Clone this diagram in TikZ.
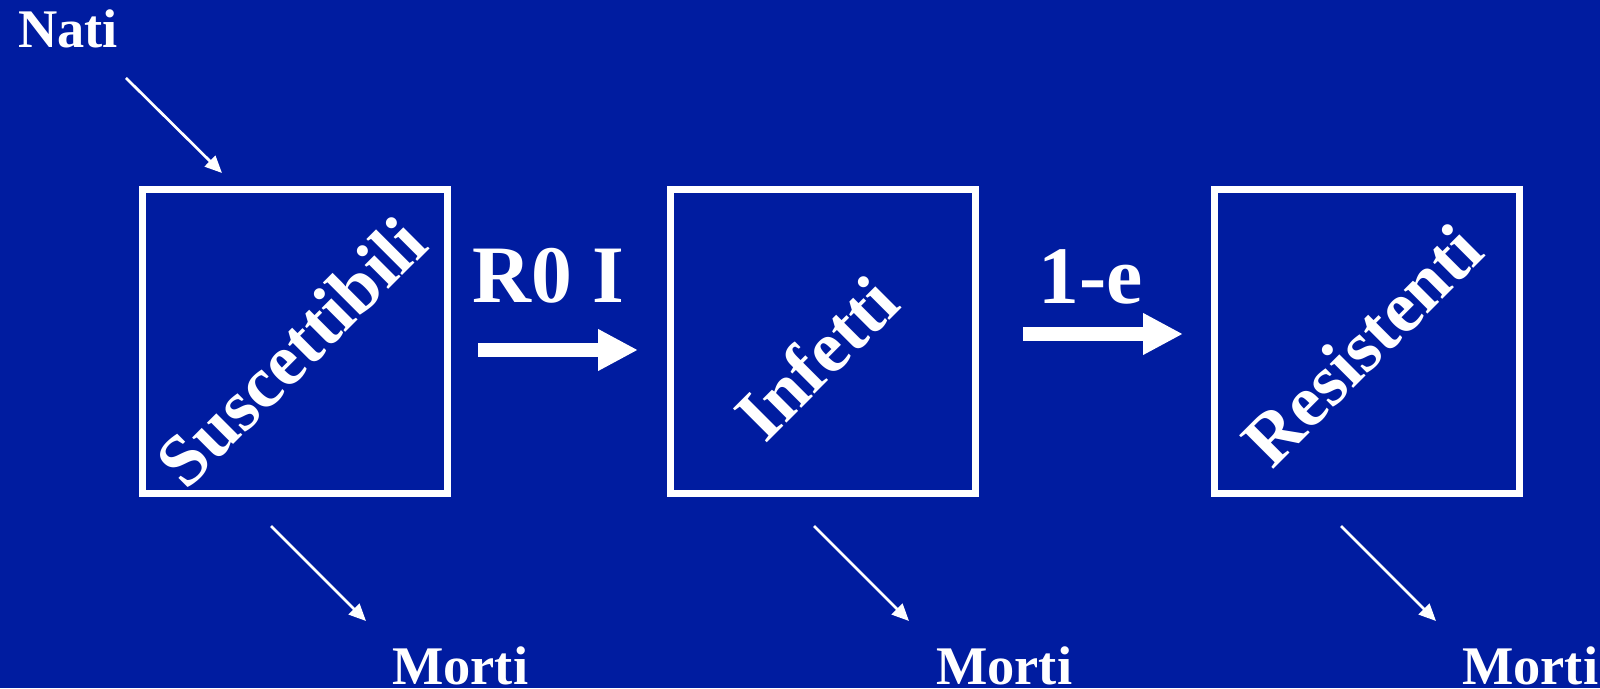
\documentclass[tikz,border=0pt]{standalone}
\usepackage{fontspec}
\setmainfont{Liberation Serif}
\usetikzlibrary{arrows.meta}
\definecolor{slideblue}{RGB}{0,28,160}

\begin{document}
\begin{tikzpicture}[x=1pt,y=1pt,
  every node/.style={text=white, inner sep=0pt},
  compbox/.style={draw=white, line width=7pt, minimum width=305pt, minimum height=304pt},
  rotlabel/.style={rotate=45, font=\bfseries\fontsize{73}{73}\selectfont},
  flowlabel/.style={anchor=base west, font=\bfseries\fontsize{54.4}{54.4}\selectfont},
  ratelabel/.style={anchor=base west, font=\bfseries\fontsize{81.6}{81.6}\selectfont},
  thinarrow/.style={white, line width=2.7pt, -{Triangle[length=17pt,width=15pt]}},
  bigarrow/.style={white, line width=13.4pt, -{Triangle[length=40pt,width=39pt]}}]

\fill[slideblue] (0,0) rectangle (1600,688);
\useasboundingbox (0,0) rectangle (1600,688);

\node[compbox] (susc) at (295,346) {};
\node[compbox] (infe) at (823,346) {};
\node[compbox] (resi) at (1367,346) {};

\node[xshift=-4pt, yshift=-10pt, rotlabel] (susctext) at (susc) {Suscettibili};
\node[xshift=-7pt, yshift=-16pt, rotlabel] (infetext) at (infe) {Infetti};
\node[xshift=-5pt, yshift=-3pt, rotlabel] (resitext) at (resi) {Resistenti};

\node[flowlabel] (nati) at (18,640) {Nati};
\node[flowlabel] (morti1) at (392,4) {Morti};
\node[flowlabel] (morti2) at (936,4) {Morti};
\node[flowlabel] (morti3) at (1462,4) {Morti};

\node[ratelabel] (r0) at (472,385) {R0 I};
\node[ratelabel] (recov) at (1038,384) {1-e};

\coordinate (natiout) at (126,610);
\coordinate (suscin) at (222,515);
\coordinate (suscout) at (271,162);
\coordinate (suscdead) at (366,67);
\coordinate (infeout) at (814,162);
\coordinate (infedead) at (909,67);
\coordinate (resiout) at (1341,162);
\coordinate (residead) at (1436,67);
\coordinate (infstart) at (478,338);
\coordinate (infend) at (638,338);
\coordinate (recstart) at (1023,354);
\coordinate (recend) at (1183,354);

\draw[thinarrow] (natiout) -- (suscin);
\draw[thinarrow] (suscout) -- (suscdead);
\draw[thinarrow] (infeout) -- (infedead);
\draw[thinarrow] (resiout) -- (residead);

\draw[bigarrow] (infstart) -- (infend);
\draw[bigarrow] (recstart) -- (recend);
\end{tikzpicture}
\end{document}
